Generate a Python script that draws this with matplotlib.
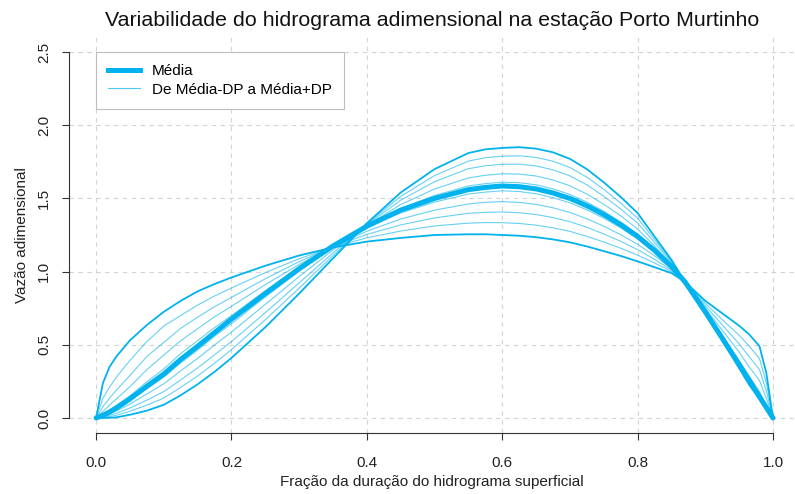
import matplotlib
matplotlib.use("Agg")
import matplotlib.pyplot as plt

plt.rcParams['font.family'] = ['Liberation Sans', 'DejaVu Sans']
plt.rcParams['font.size'] = 11

# fraction of the hydrograph duration
frac = [0, 0.01, 0.02, 0.03, 0.05, 0.075, 0.1, 0.125, 0.15, 0.175,
        0.2, 0.25, 0.3, 0.35, 0.4, 0.45, 0.5, 0.55, 0.575, 0.6,
        0.625, 0.65, 0.675, 0.7, 0.725, 0.75, 0.775, 0.8, 0.825, 0.85,
        0.87, 0.9, 0.925, 0.95, 0.965, 0.98, 0.99, 1.0]

# mean dimensionless hydrograph
media = [0, 0.018, 0.041, 0.068, 0.13, 0.217, 0.30, 0.40, 0.49, 0.583,
         0.675, 0.85, 1.02, 1.175, 1.31, 1.42, 1.50, 1.56, 1.575, 1.585,
         1.58, 1.565, 1.537, 1.50, 1.45, 1.39, 1.32, 1.24, 1.145, 1.035,
         0.93, 0.725, 0.545, 0.365, 0.255, 0.145, 0.072, 0]

# curves from Media-DP (flat) to Media+DP (peaked)
menos_dp = [0, 0.237, 0.35, 0.42, 0.53, 0.635, 0.725, 0.80, 0.865, 0.915,
            0.96, 1.04, 1.11, 1.165, 1.205, 1.23, 1.25, 1.255, 1.255, 1.25,
            1.245, 1.235, 1.22, 1.20, 1.172, 1.14, 1.107, 1.07, 1.03, 0.99,
            0.93, 0.80, 0.715, 0.63, 0.57, 0.49, 0.31, 0]
l4 = [0, 0.133, 0.212, 0.279, 0.393, 0.522, 0.628, 0.70, 0.771, 0.833,
      0.888, 0.993, 1.088, 1.167, 1.231, 1.277, 1.312, 1.331, 1.335, 1.334,
      1.329, 1.317, 1.299, 1.275, 1.241, 1.202, 1.16, 1.112, 1.059, 1.001,
      0.93, 0.782, 0.672, 0.565, 0.49, 0.405, 0.243, 0]
l3 = [0, 0.076, 0.136, 0.19, 0.29, 0.42, 0.516, 0.612, 0.689, 0.76,
      0.824, 0.951, 1.068, 1.17, 1.254, 1.319, 1.367, 1.398, 1.405, 1.407,
      1.402, 1.39, 1.369, 1.341, 1.303, 1.257, 1.207, 1.15, 1.084, 1.011,
      0.93, 0.765, 0.636, 0.506, 0.418, 0.33, 0.186, 0]
l2 = [0, 0.045, 0.088, 0.130, 0.214, 0.33, 0.43, 0.528, 0.61, 0.691,
      0.763, 0.911, 1.049, 1.172, 1.276, 1.359, 1.42, 1.462, 1.473, 1.478,
      1.473, 1.459, 1.436, 1.404, 1.361, 1.31, 1.252, 1.186, 1.108, 1.021,
      0.93, 0.749, 0.6, 0.45, 0.347, 0.256, 0.135, 0]
l1 = [0, 0.025, 0.054, 0.086, 0.152, 0.247, 0.335, 0.44, 0.528, 0.618,
      0.699, 0.869, 1.029, 1.174, 1.30, 1.401, 1.475, 1.53, 1.543, 1.552,
      1.547, 1.532, 1.505, 1.47, 1.422, 1.365, 1.299, 1.223, 1.134, 1.031,
      0.93, 0.733, 0.562, 0.392, 0.286, 0.18, 0.088, 0]
u1 = [0, 0.016, 0.037, 0.062, 0.119, 0.200, 0.279, 0.376, 0.464, 0.558,
      0.644, 0.827, 1.003, 1.167, 1.312, 1.432, 1.52, 1.585, 1.601, 1.611,
      1.607, 1.593, 1.565, 1.527, 1.475, 1.412, 1.339, 1.256, 1.155, 1.040,
      0.93, 0.724, 0.543, 0.362, 0.253, 0.144, 0.071, 0]
u2 = [0, 0.012, 0.028, 0.048, 0.095, 0.164, 0.233, 0.322, 0.407, 0.499,
      0.587, 0.776, 0.966, 1.148, 1.316, 1.458, 1.564, 1.64, 1.658, 1.668,
      1.666, 1.653, 1.626, 1.586, 1.53, 1.46, 1.381, 1.291, 1.175, 1.049,
      0.93, 0.721, 0.54, 0.358, 0.248, 0.14, 0.068, 0]
u3 = [0, 0.008, 0.018, 0.032, 0.068, 0.122, 0.18, 0.26, 0.342, 0.431,
      0.522, 0.719, 0.923, 1.127, 1.321, 1.488, 1.614, 1.703, 1.723, 1.733,
      1.734, 1.722, 1.695, 1.654, 1.593, 1.515, 1.428, 1.331, 1.199, 1.061,
      0.93, 0.717, 0.537, 0.352, 0.24, 0.137, 0.065, 0]
u4 = [0, 0.004, 0.010, 0.018, 0.046, 0.087, 0.136, 0.209, 0.287, 0.374,
      0.467, 0.671, 0.887, 1.109, 1.326, 1.514, 1.656, 1.755, 1.778, 1.788,
      1.791, 1.78, 1.754, 1.711, 1.645, 1.562, 1.468, 1.365, 1.219, 1.07,
      0.93, 0.713, 0.533, 0.346, 0.232, 0.134, 0.062, 0]
mais_dp = [0, 0.0003, 0.0013, 0.004, 0.022, 0.05, 0.09, 0.155, 0.23, 0.315,
           0.41, 0.62, 0.85, 1.09, 1.33, 1.54, 1.70, 1.81, 1.835, 1.845,
           1.85, 1.84, 1.815, 1.77, 1.70, 1.61, 1.51, 1.40, 1.24, 1.08,
           0.93, 0.71, 0.53, 0.34, 0.225, 0.13, 0.06, 0]

azul = '#00B2EE'

fig = plt.figure(figsize=(7.95, 4.94), dpi=100)
ax = fig.add_axes([69 / 795, 61.4 / 494, 726 / 795, 395.2 / 494])

for curva in [l4, l3, l2, l1, u1, u2, u3, u4]:
    ax.plot(frac, curva, color=azul, lw=0.8, alpha=0.6, zorder=3)
for curva in [menos_dp, mais_dp]:
    ax.plot(frac, curva, color=azul, lw=1.3, zorder=3)
ax.plot(frac, media, color=azul, lw=3.6, solid_capstyle='round',
        solid_joinstyle='round', zorder=4)

ax.set_xlim(-0.04, (795 - 96) / 677)
ax.set_ylim(-0.1, 2.6)
ax.set_xticks([0, 0.2, 0.4, 0.6, 0.8, 1.0])
ax.set_yticks([0, 0.5, 1.0, 1.5, 2.0, 2.5])
ax.set_xticklabels(['0.0', '0.2', '0.4', '0.6', '0.8', '1.0'])
ax.set_yticklabels(['0.0', '0.5', '1.0', '1.5', '2.0', '2.5'])
ax.grid(True, color='#D3D3D3', linestyle=(0, (4, 4)), lw=0.8, zorder=0)

for s in ['top', 'right']:
    ax.spines[s].set_visible(False)
ax.spines['left'].set_bounds(0, 2.5)
ax.spines['bottom'].set_bounds(0, 1)
for s in ['left', 'bottom']:
    ax.spines[s].set_color('#333333')
    ax.spines[s].set_linewidth(0.8)

ax.tick_params(axis='both', length=5, width=0.8, color='#333333', labelcolor='#222222')
ax.tick_params(axis='x', pad=11.5)
ax.tick_params(axis='y', pad=8)
plt.setp(ax.get_yticklabels(), rotation=90, va='center')

ax.set_xlabel('Fração da duração do hidrograma superficial', color='#222222')
ax.xaxis.set_label_coords(0.5, (432.6 - 482) / 395.2)
ax.xaxis.label.set_va('center')
ax.set_ylabel('Vazão adimensional', color='#222222')
ax.yaxis.set_label_coords((22 - 69) / 726, 0.5)
ax.yaxis.label.set_va('center')

fig.text(432 / 795, (494 - 20) / 494,
         'Variabilidade do hidrograma adimensional na estação Porto Murtinho',
         ha='center', va='center', fontsize=15.4, color='#111111')

h1, = ax.plot([], [], color=azul, lw=3.6)
h2, = ax.plot([], [], color=azul, lw=0.8, alpha=0.7)
leg = ax.legend([h1, h2], ['Média', 'De Média-DP a Média+DP'],
                loc='upper left', bbox_to_anchor=(0, 2.5),
                bbox_transform=ax.transData, borderaxespad=0,
                fancybox=False, framealpha=1, edgecolor='#BDBDBD',
                handlelength=2.1, handletextpad=0.75, borderpad=0.8,
                labelspacing=0.3)
leg.get_frame().set_linewidth(0.8)
leg.set_zorder(5)

fig.savefig('out.png', dpi=100)
